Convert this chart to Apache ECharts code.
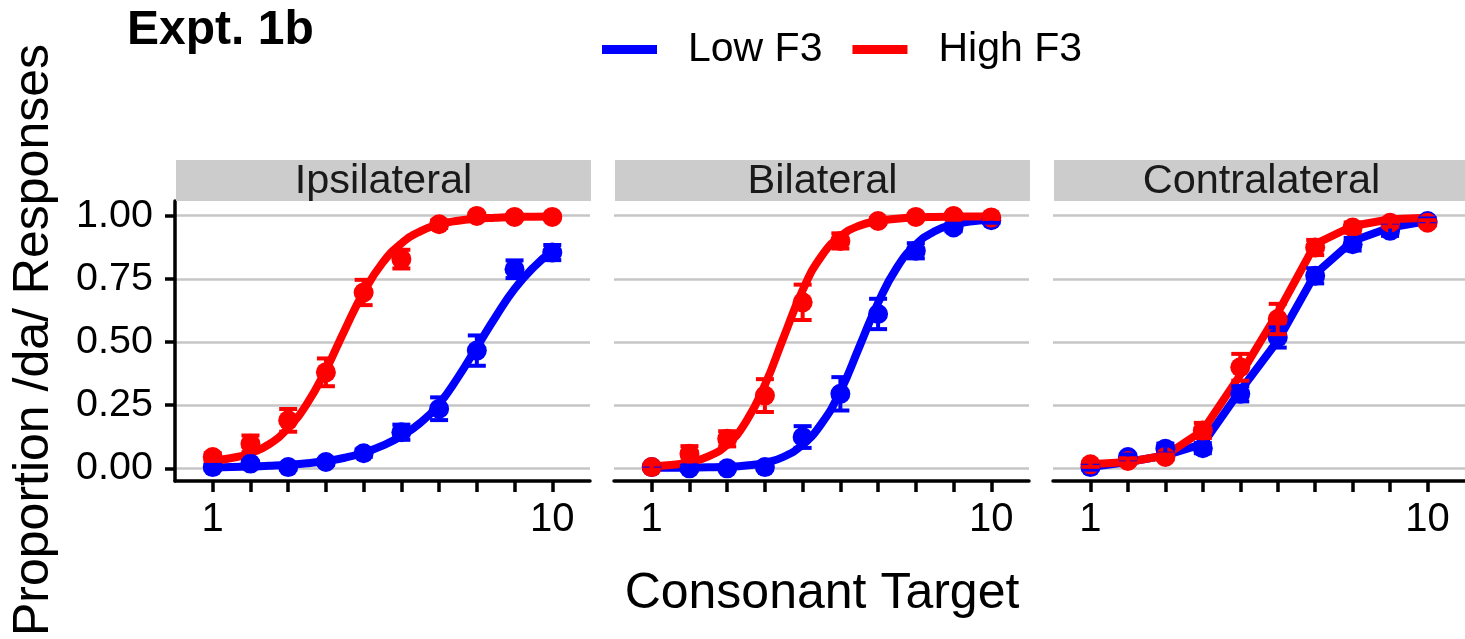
<!DOCTYPE html>
<html>
<head>
<meta charset="utf-8">
<title>Expt. 1b</title>
<script src="https://cdn.jsdelivr.net/npm/echarts@6/dist/echarts.min.js"></script>
<style>
html, body { margin: 0; padding: 0; background: #fff; }
#chart { width: 1465px; height: 639px; }
</style>
</head>
<body>
<div id="chart"></div>
<script>
// stimulus steps and tick labels
var steps = [1, 2, 3, 4, 5, 6, 7, 8, 9, 10];
var fitSteps = [1, 1.5, 2, 2.5, 3, 3.5, 4, 4.5, 5, 5.5, 6, 6.5, 7, 7.5, 8, 8.5, 9, 9.5, 10];
var xLabelValues = [1, 10];
var yTickValues = [0, 0.25, 0.5, 0.75, 1];
var panelNames = ['Ipsilateral', 'Bilateral', 'Contralateral'];

// Ipsilateral
var ipsiLow = [0.005, 0.019, 0.005, 0.025, 0.06, 0.143, 0.236, 0.466, 0.788, 0.854];
var ipsiLowSe = [0.01, 0.01, 0.01, 0.01, 0.015, 0.03, 0.045, 0.06, 0.035, 0.03];
var ipsiHigh = [0.045, 0.097, 0.19, 0.38, 0.696, 0.828, 0.966, 0.999, 0.995, 0.995];
var ipsiHighSe = [0.015, 0.033, 0.045, 0.055, 0.05, 0.037, 0.015, 0.008, 0.005, 0.005];
var ipsiLowFit = [0.004, 0.005, 0.007, 0.01, 0.014, 0.02, 0.029, 0.042, 0.062, 0.09, 0.128, 0.18, 0.255, 0.36, 0.48, 0.6, 0.71, 0.795, 0.86];
var ipsiHighFit = [0.03, 0.041, 0.06, 0.096, 0.16, 0.256, 0.39, 0.548, 0.697, 0.813, 0.89, 0.938, 0.965, 0.98, 0.988, 0.992, 0.995, 0.996, 0.997];

// Bilateral
var biLow = [0.005, 0.0, 0.0, 0.005, 0.124, 0.295, 0.611, 0.861, 0.953, 0.982];
var biLowSe = [0.005, 0.01, 0.005, 0.01, 0.043, 0.066, 0.06, 0.03, 0.015, 0.01];
var biHigh = [0.005, 0.058, 0.117, 0.288, 0.657, 0.9, 0.979, 0.995, 0.999, 0.993];
var biHighSe = [0.01, 0.03, 0.03, 0.065, 0.07, 0.03, 0.01, 0.005, 0.005, 0.005];
var biLowFit = [0.002, 0.002, 0.003, 0.004, 0.006, 0.011, 0.022, 0.046, 0.094, 0.177, 0.305, 0.48, 0.655, 0.795, 0.885, 0.938, 0.965, 0.978, 0.985];
var biHighFit = [0.008, 0.013, 0.024, 0.047, 0.094, 0.185, 0.33, 0.52, 0.705, 0.84, 0.918, 0.96, 0.979, 0.988, 0.993, 0.995, 0.996, 0.997, 0.997];

// Contralateral
var contraLow = [0.005, 0.045, 0.078, 0.08, 0.295, 0.518, 0.762, 0.887, 0.94, 0.979];
var contraLowSe = [0.01, 0.01, 0.02, 0.02, 0.03, 0.04, 0.03, 0.025, 0.02, 0.01];
var contraHigh = [0.016, 0.029, 0.045, 0.15, 0.4, 0.591, 0.874, 0.953, 0.972, 0.972];
var contraHighSe = [0.01, 0.01, 0.01, 0.03, 0.053, 0.06, 0.03, 0.02, 0.015, 0.01];
var contraLowFit = [0.005, 0.025, 0.051, 0.097, 0.308, 0.505, 0.769, 0.9, 0.953, 0.979];
var contraHighFit = [0.016, 0.025, 0.051, 0.15, 0.37, 0.615, 0.887, 0.959, 0.986, 0.992];

var LOW = '#0000FF', HIGH = '#FF0000';
var FONT = "'Liberation Sans', Arial, sans-serif";

var panels = [
    {low: ipsiLow, lowSe: ipsiLowSe, high: ipsiHigh, highSe: ipsiHighSe, lowFit: ipsiLowFit, highFit: ipsiHighFit, fitX: fitSteps, smooth: true},
    {low: biLow, lowSe: biLowSe, high: biHigh, highSe: biHighSe, lowFit: biLowFit, highFit: biHighFit, fitX: fitSteps, smooth: true},
    {low: contraLow, lowSe: contraLowSe, high: contraHigh, highSe: contraHighSe, lowFit: contraLowFit, highFit: contraHighFit, fitX: steps, smooth: false}
];

var gridLeft = [175, 614, 1053];
var gridW = 415, gridTop = 201, gridH = 280;

function pairs(xs, ys) {
    var out = [];
    for (var i = 0; i < xs.length; i++) out.push([xs[i], ys[i]]);
    return out;
}
function errData(ys, se) {
    var out = [];
    for (var i = 0; i < steps.length; i++) out.push([steps[i], ys[i] - se[i], ys[i] + se[i]]);
    return out;
}
function errRender(color) {
    return function(params, api) {
        var lo = api.coord([api.value(0), api.value(1)]);
        var hi = api.coord([api.value(0), api.value(2)]);
        var half = 9;
        var st = {stroke: color, lineWidth: 4, fill: null};
        return {type: 'group', children: [
            {type: 'line', shape: {x1: lo[0], y1: lo[1], x2: hi[0], y2: hi[1]}, style: st},
            {type: 'line', shape: {x1: lo[0] - half, y1: lo[1], x2: lo[0] + half, y2: lo[1]}, style: st},
            {type: 'line', shape: {x1: hi[0] - half, y1: hi[1], x2: hi[0] + half, y2: hi[1]}, style: st}
        ]};
    };
}

var grids = [], xAxes = [], yAxes = [], series = [], graphics = [];
panels.forEach(function(p, i) {
    grids.push({left: gridLeft[i], top: gridTop, width: gridW, height: gridH, containLabel: false});
    xAxes.push({
        type: 'value', gridIndex: i, min: 0, max: 11,
        axisLine: {show: true, onZero: false, lineStyle: {color: '#000', width: 3.5}},
        axisTick: {show: true, length: 11, lineStyle: {color: '#000', width: 3.5}, customValues: steps},
        axisLabel: {show: true, customValues: xLabelValues, margin: 19, color: '#000', fontSize: 40, fontFamily: FONT},
        splitLine: {show: false}
    });
    yAxes.push({
        type: 'value', gridIndex: i, min: -0.05, max: 1.058,
        axisLine: {show: i === 0, onZero: false, lineStyle: {color: '#000', width: 3.5}},
        axisTick: {show: i === 0, length: 10, lineStyle: {color: '#000', width: 3.5}, customValues: yTickValues},
        axisLabel: {show: i === 0, customValues: yTickValues, margin: 22, color: '#000', fontSize: 39.5, fontFamily: FONT,
            formatter: function(v) { return Number(v).toFixed(2); }},
        splitLine: {show: true, lineStyle: {color: '#c6c6c6', width: 2.5}}
    });
    series.push({
        name: 'Low F3', type: 'line', xAxisIndex: i, yAxisIndex: i, data: pairs(p.fitX, p.lowFit),
        smooth: p.smooth ? 0.5 : false, showSymbol: false, symbol: 'none',
        lineStyle: {color: LOW, width: 8}, itemStyle: {color: LOW}, z: 2
    });
    series.push({
        name: 'High F3', type: 'line', xAxisIndex: i, yAxisIndex: i, data: pairs(p.fitX, p.highFit),
        smooth: p.smooth ? 0.5 : false, showSymbol: false, symbol: 'none',
        lineStyle: {color: HIGH, width: 8}, itemStyle: {color: HIGH}, z: 2
    });
    series.push({
        name: 'Low F3', type: 'scatter', xAxisIndex: i, yAxisIndex: i, data: pairs(steps, p.low),
        symbol: 'circle', symbolSize: 20, itemStyle: {color: LOW, opacity: 1}, z: 3
    });
    series.push({
        name: 'High F3', type: 'scatter', xAxisIndex: i, yAxisIndex: i, data: pairs(steps, p.high),
        symbol: 'circle', symbolSize: 20, itemStyle: {color: HIGH, opacity: 1}, z: 3
    });
    series.push({
        name: 'Low F3', type: 'custom', xAxisIndex: i, yAxisIndex: i, data: errData(p.low, p.lowSe),
        renderItem: errRender(LOW), encode: {x: 0, y: [1, 2]}, z: 4
    });
    series.push({
        name: 'High F3', type: 'custom', xAxisIndex: i, yAxisIndex: i, data: errData(p.high, p.highSe),
        renderItem: errRender(HIGH), encode: {x: 0, y: [1, 2]}, z: 4
    });

    // facet strip
    graphics.push({type: 'rect', left: gridLeft[i] + 1, top: 160, shape: {width: gridW, height: 41},
        style: {fill: '#cccccc'}, z: 1});
    graphics.push({type: 'text', x: gridLeft[i] + 1 + gridW / 2, y: 182,
        style: {text: panelNames[i], fill: '#1a1a1a', font: '41.5px ' + FONT, align: 'center', verticalAlign: 'middle'}, z: 2});
});

// axis titles
graphics.push({type: 'text', x: 34, y: 340, rotation: Math.PI / 2,
    style: {text: 'Proportion /da/ Responses', fill: '#000', font: '50px ' + FONT, align: 'center', verticalAlign: 'middle'}});
graphics.push({type: 'text', x: 822, y: 594,
    style: {text: 'Consonant Target', fill: '#000', font: '50px ' + FONT, align: 'center', verticalAlign: 'middle'}});

var chart = echarts.init(document.getElementById('chart'), null, {renderer: 'canvas'});
chart.setOption({
    backgroundColor: '#fff',
    animation: false,
    title: {text: 'Expt. 1b', left: 122, top: 2,
        textStyle: {fontSize: 48, fontWeight: 'bold', color: '#000', fontFamily: FONT}},
    legend: {
        data: [{name: 'Low F3', icon: 'rect'}, {name: 'High F3', icon: 'rect'}],
        left: 597, top: 24, itemWidth: 55, itemHeight: 9, itemGap: 30,
        textStyle: {fontSize: 41, color: '#000', fontFamily: FONT, padding: [0, 0, 0, 26]}
    },
    grid: grids,
    xAxis: xAxes,
    yAxis: yAxes,
    series: series,
    graphic: graphics
});
</script>
</body>
</html>
